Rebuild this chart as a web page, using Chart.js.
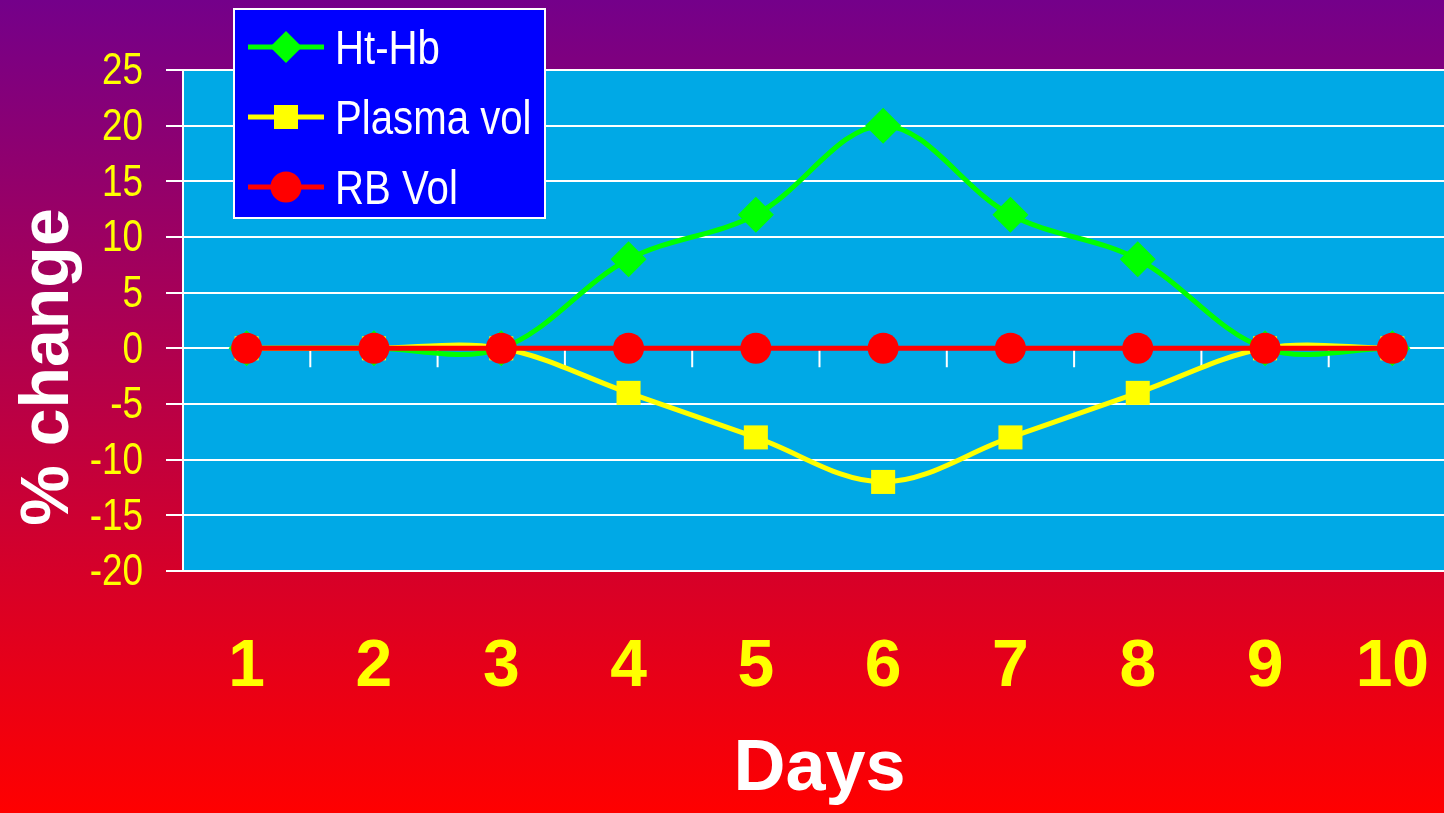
<!DOCTYPE html>
<html>
<head>
<meta charset="utf-8">
<title>% change over days</title>
<script src="https://cdn.jsdelivr.net/npm/chart.js@4.4.1/dist/chart.umd.min.js"></script>
<style>
  html, body {
    margin: 0;
    padding: 0;
    width: 1444px;
    height: 813px;
    overflow: hidden;
    background: linear-gradient(to bottom, #74008a 0%, #ff0000 100%);
  }
  #wrap { position: absolute; left: 0; top: 0; width: 1460px; height: 813px; }
</style>
</head>
<body>
<div id="wrap"><canvas id="chart" width="1460" height="813"></canvas></div>
<script>
// Days on the x axis
const days = ['1', '2', '3', '4', '5', '6', '7', '8', '9', '10'];

// Percent change per day
const htHb      = [0, 0, 0, 8, 12, 20, 12, 8, 0, 0];
const plasmaVol = [0, 0, 0, -4, -8, -12, -8, -4, 0, 0];
const rbVol     = [0, 0, 0, 0, 0, 0, 0, 0, 0, 0];

// Value axis range
const yMin = -20;
const yMax = 25;
const yStep = 5;

const seriesNames = ['Ht-Hb', 'Plasma vol', 'RB Vol'];

const SANS = "'Liberation Sans', Arial, Helvetica, sans-serif";
const NARROW_SCALE = 0.82;   // horizontal squeeze that gives a narrow face

const GREEN = '#00ff00';
const YELLOW = '#ffff00';
const RED = '#ff0000';
const PLOT_BG = '#00a9e6';

// Text drawn with a narrow (horizontally squeezed) sans face
function narrowText(ctx, text, x, y, size, color, align) {
  ctx.save();
  ctx.translate(x, y);
  ctx.scale(NARROW_SCALE, 1);
  ctx.font = size + 'px ' + SANS;
  ctx.fillStyle = color;
  ctx.textAlign = align;
  ctx.textBaseline = 'middle';
  ctx.fillText(text, 0, 0);
  ctx.restore();
}

// Blue plot area behind everything
const plotBackground = {
  id: 'plotBackground',
  beforeDraw(chart) {
    const { ctx, chartArea: a } = chart;
    ctx.save();
    ctx.fillStyle = PLOT_BG;
    ctx.fillRect(a.left, a.top, a.right - a.left, a.bottom - a.top);
    ctx.restore();
  }
};

// Category tick marks hanging below the zero line
const zeroAxisTicks = {
  id: 'zeroAxisTicks',
  beforeDatasetsDraw(chart) {
    const { ctx, scales: { x, y } } = chart;
    const y0 = y.getPixelForValue(0);
    ctx.save();
    ctx.strokeStyle = '#ffffff';
    ctx.lineWidth = 2;
    ctx.beginPath();
    for (let i = 0; i < days.length - 1; i++) {
      const px = (x.getPixelForValue(i) + x.getPixelForValue(i + 1)) / 2;
      ctx.moveTo(px, y0);
      ctx.lineTo(px, y0 + 19);
    }
    ctx.stroke();
    ctx.restore();
  }
};

// Value axis labels in the narrow face, taken from the scale's own ticks
const narrowValueLabels = {
  id: 'narrowValueLabels',
  afterDraw(chart) {
    const { ctx, scales: { y } } = chart;
    y.ticks.forEach((t) => {
      const py = y.getPixelForValue(t.value);
      narrowText(ctx, String(t.value), y.right - 40, py + 2, 45, YELLOW, 'right');
    });
  }
};

// Rotated title for the value axis
const valueAxisTitle = {
  id: 'valueAxisTitle',
  afterDraw(chart) {
    const { ctx } = chart;
    ctx.save();
    ctx.translate(68, 367);
    ctx.rotate(-Math.PI / 2);
    ctx.fillStyle = '#ffffff';
    ctx.font = 'bold 68px ' + SANS;
    ctx.textAlign = 'center';
    ctx.textBaseline = 'alphabetic';
    ctx.fillText('% change', 0, 0);
    ctx.restore();
  }
};

// Boxed legend in the upper left
const boxedLegend = {
  id: 'boxedLegend',
  afterDraw(chart) {
    const { ctx } = chart;
    const box = { left: 234, top: 9, width: 311, height: 209 };
    ctx.save();
    ctx.fillStyle = '#0000ff';
    ctx.fillRect(box.left, box.top, box.width, box.height);
    ctx.strokeStyle = '#ffffff';
    ctx.lineWidth = 2;
    ctx.strokeRect(box.left, box.top, box.width, box.height);

    chart.data.datasets.forEach((ds, i) => {
      const cy = 47 + i * 70;
      const x1 = 248, x2 = 324, cx = 286;
      ctx.strokeStyle = ds.borderColor;
      ctx.lineWidth = 5;
      ctx.beginPath();
      ctx.moveTo(x1, cy);
      ctx.lineTo(x2, cy);
      ctx.stroke();

      ctx.fillStyle = ds.pointBackgroundColor;
      ctx.beginPath();
      if (ds.pointStyle === 'rectRot') {
        const r = 16;
        ctx.moveTo(cx, cy - r);
        ctx.lineTo(cx + r, cy);
        ctx.lineTo(cx, cy + r);
        ctx.lineTo(cx - r, cy);
        ctx.closePath();
      } else if (ds.pointStyle === 'rect') {
        ctx.rect(cx - 12, cy - 12, 24, 24);
      } else {
        ctx.arc(cx, cy, 15.5, 0, Math.PI * 2);
      }
      ctx.fill();

      narrowText(ctx, ds.label, 335, cy + 3, 49, '#ffffff', 'left');
    });
    ctx.restore();
  }
};

const lineCommon = {
  borderWidth: 5,
  tension: 0.35,
  pointBorderWidth: 0,
  pointHoverBorderWidth: 0,
  fill: false
};

new Chart(document.getElementById('chart'), {
  type: 'line',
  data: {
    labels: days,
    datasets: [
      Object.assign({}, lineCommon, {
        label: seriesNames[0], data: htHb, order: 3,
        borderColor: GREEN, backgroundColor: GREEN, pointBackgroundColor: GREEN,
        pointStyle: 'rectRot', pointRadius: 18, pointHoverRadius: 18
      }),
      Object.assign({}, lineCommon, {
        label: seriesNames[1], data: plasmaVol, order: 2,
        borderColor: YELLOW, backgroundColor: YELLOW, pointBackgroundColor: YELLOW,
        pointStyle: 'rect', pointRadius: 17, pointHoverRadius: 17
      }),
      Object.assign({}, lineCommon, {
        label: seriesNames[2], data: rbVol, order: 1,
        borderColor: RED, backgroundColor: RED, pointBackgroundColor: RED,
        pointStyle: 'circle', pointRadius: 15.5, pointHoverRadius: 15.5
      })
    ]
  },
  options: {
    responsive: false,
    animation: false,
    events: [],
    layout: { autoPadding: false, padding: { top: 70, right: 4, left: 0, bottom: 0 } },
    plugins: {
      legend: { display: false },
      tooltip: { enabled: false },
      title: { display: false }
    },
    scales: {
      x: {
        type: 'category',
        offset: true,
        grid: { display: false, drawTicks: false, offset: true },
        border: { display: false },
        ticks: {
          color: YELLOW,
          font: { family: SANS, size: 66, weight: 'bold', lineHeight: 2.93 },
          padding: 0,
          maxRotation: 0,
          autoSkip: false
        },
        title: {
          display: true,
          text: 'Days',
          color: '#ffffff',
          font: { family: SANS, size: 72, weight: 'bold' },
          padding: { top: 0, bottom: 0 }
        },
        afterFit(scale) {
          scale.height = 242;
          scale.paddingLeft = 0;
          scale.paddingRight = 0;
        }
      },
      y: {
        min: yMin,
        max: yMax,
        grid: {
          color: '#ffffff',
          lineWidth: 2,
          drawTicks: true,
          tickLength: 17,
          tickWidth: 2
        },
        border: { display: true, color: '#ffffff', width: 2 },
        ticks: {
          stepSize: yStep,
          display: false,
          autoSkip: false
        },
        afterFit(scale) { scale.width = 183; }
      }
    }
  },
  plugins: [plotBackground, zeroAxisTicks, narrowValueLabels, valueAxisTitle, boxedLegend]
});
</script>
</body>
</html>
